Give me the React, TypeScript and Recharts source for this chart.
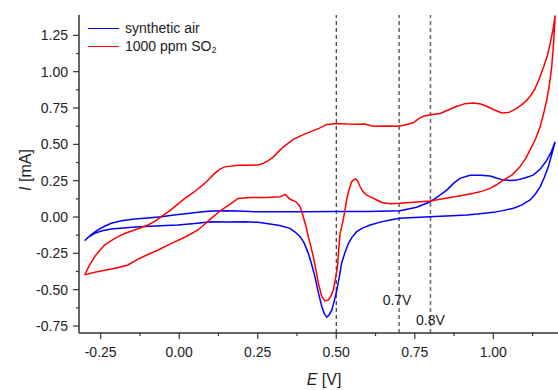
import { LineChart, Line, XAxis, YAxis, ReferenceLine, Legend, Label } from "recharts";

// [E (V), I (mA)] pairs
const airForward = [
  [-0.301, -0.163], [-0.28, -0.12], [-0.259, -0.089], [-0.236, -0.062], [-0.216, -0.043],
  [-0.184, -0.025], [-0.142, -0.014], [-0.1, -0.006], [-0.057, 0.002], [-0.01, 0.015],
  [0.028, 0.025], [0.06, 0.033], [0.102, 0.041], [0.15, 0.043], [0.187, 0.041],
  [0.251, 0.036], [0.3, 0.036], [0.4, 0.036], [0.5, 0.038], [0.6, 0.038],
  [0.703, 0.043], [0.756, 0.067], [0.799, 0.105], [0.83, 0.15], [0.852, 0.185],
  [0.875, 0.235], [0.894, 0.266], [0.926, 0.288], [0.96, 0.288], [0.99, 0.282],
  [1.01, 0.268], [1.032, 0.254], [1.055, 0.252], [1.074, 0.254], [1.1, 0.268],
  [1.127, 0.288], [1.15, 0.33], [1.17, 0.39], [1.185, 0.45], [1.197, 0.517],
];

const airReverse = [
  [1.186, 0.43], [1.175, 0.345], [1.162, 0.27], [1.149, 0.208], [1.133, 0.155],
  [1.117, 0.117], [1.09, 0.082], [1.064, 0.06], [1.03, 0.044], [1.0, 0.032],
  [0.95, 0.02], [0.916, 0.014], [0.85, 0.007], [0.799, 0.002], [0.75, -0.004],
  [0.703, -0.009], [0.671, -0.021], [0.64, -0.035], [0.608, -0.055], [0.585, -0.075],
  [0.565, -0.101], [0.55, -0.14], [0.539, -0.181], [0.527, -0.25], [0.517, -0.318],
  [0.51, -0.41], [0.502, -0.501], [0.494, -0.575], [0.486, -0.639], [0.478, -0.672],
  [0.47, -0.689], [0.462, -0.665], [0.454, -0.616], [0.443, -0.52], [0.432, -0.41],
  [0.421, -0.32], [0.411, -0.25], [0.398, -0.18], [0.385, -0.135], [0.37, -0.105],
  [0.353, -0.078], [0.32, -0.058], [0.289, -0.048], [0.251, -0.036], [0.209, -0.032],
  [0.15, -0.035], [0.102, -0.032], [0.05, -0.045], [-0.004, -0.055], [-0.06, -0.06],
  [-0.11, -0.066], [-0.16, -0.072], [-0.216, -0.082], [-0.245, -0.095], [-0.269, -0.112],
  [-0.29, -0.14], [-0.301, -0.163],
];

const so2Forward = [
  [-0.301, -0.398], [-0.285, -0.33], [-0.269, -0.272], [-0.253, -0.23], [-0.237, -0.192],
  [-0.215, -0.16], [-0.195, -0.135], [-0.17, -0.11], [-0.142, -0.089], [-0.12, -0.072],
  [-0.099, -0.055], [-0.078, -0.03], [-0.057, 0.002], [-0.035, 0.035], [-0.014, 0.071],
  [0.018, 0.128], [0.049, 0.174], [0.081, 0.231], [0.113, 0.3], [0.13, 0.33],
  [0.145, 0.345], [0.187, 0.357], [0.226, 0.357], [0.251, 0.358], [0.268, 0.369],
  [0.285, 0.39], [0.3, 0.414], [0.316, 0.45], [0.332, 0.483], [0.363, 0.534],
  [0.39, 0.562], [0.417, 0.586], [0.445, 0.61], [0.47, 0.637], [0.502, 0.643],
  [0.535, 0.64], [0.565, 0.639], [0.59, 0.64], [0.618, 0.625], [0.66, 0.626],
  [0.693, 0.625], [0.715, 0.632], [0.745, 0.648], [0.762, 0.675], [0.777, 0.694],
  [0.8, 0.704], [0.831, 0.712], [0.86, 0.74], [0.884, 0.762], [0.91, 0.78],
  [0.937, 0.785], [0.96, 0.778], [0.979, 0.762], [1.0, 0.74], [1.027, 0.716],
  [1.05, 0.72], [1.074, 0.747], [1.092, 0.775], [1.107, 0.804], [1.122, 0.845],
  [1.133, 0.884], [1.148, 0.96], [1.16, 1.032], [1.172, 1.11], [1.181, 1.193],
  [1.19, 1.29], [1.197, 1.387],
];

const so2Reverse = [
  [1.192, 1.2], [1.186, 1.032], [1.178, 0.9], [1.17, 0.804], [1.16, 0.71],
  [1.149, 0.62], [1.136, 0.545], [1.122, 0.483], [1.105, 0.41], [1.085, 0.345],
  [1.06, 0.29], [1.032, 0.254], [1.01, 0.222], [0.99, 0.197], [0.965, 0.178],
  [0.937, 0.163], [0.9, 0.148], [0.863, 0.135], [0.83, 0.122], [0.799, 0.11],
  [0.746, 0.101], [0.703, 0.094], [0.671, 0.091], [0.645, 0.1], [0.629, 0.117],
  [0.612, 0.135], [0.597, 0.151], [0.585, 0.175], [0.576, 0.208], [0.568, 0.25],
  [0.562, 0.262], [0.555, 0.255], [0.549, 0.243], [0.541, 0.19], [0.533, 0.117],
  [0.528, 0.05], [0.523, -0.01], [0.517, -0.07], [0.512, -0.112], [0.508, -0.22],
  [0.504, -0.341], [0.497, -0.43], [0.491, -0.501], [0.483, -0.545], [0.475, -0.57],
  [0.464, -0.577], [0.454, -0.547], [0.443, -0.456], [0.435, -0.36], [0.427, -0.273],
  [0.419, -0.2], [0.411, -0.135], [0.403, -0.06], [0.395, 0.002], [0.385, 0.071],
  [0.372, 0.105], [0.353, 0.122], [0.345, 0.14], [0.337, 0.156], [0.328, 0.145],
  [0.321, 0.139], [0.279, 0.135], [0.251, 0.135], [0.226, 0.135], [0.187, 0.128],
  [0.166, 0.094], [0.134, 0.048], [0.102, -0.009], [0.081, -0.05], [0.06, -0.089],
  [0.018, -0.139], [-0.025, -0.181], [-0.067, -0.227], [-0.11, -0.268], [-0.135, -0.295],
  [-0.163, -0.33], [-0.19, -0.345], [-0.216, -0.357], [-0.245, -0.37], [-0.269, -0.38],
  [-0.301, -0.398],
];

const markers = [0.5, 0.7, 0.8];

const xTicks = [-0.25, -0.125, 0, 0.125, 0.25, 0.375, 0.5, 0.625, 0.75, 0.875, 1.0, 1.125];
const yTicks = [-0.75, -0.625, -0.5, -0.375, -0.25, -0.125, 0, 0.125, 0.25, 0.375, 0.5, 0.625, 0.75, 0.875, 1.0, 1.125, 1.25];

const toRows = (pts: number[][]) => pts.map(([E, I]) => ({ E, I }));
const airData = toRows([...airForward, ...airReverse]);
const so2Data = toRows([...so2Forward, ...so2Reverse]);

const FONT = "'Liberation Sans', Arial, sans-serif";
const AXIS = "#333";
const isMajor = (v: number) => Math.abs(v * 4 - Math.round(v * 4)) < 1e-6;

const XTick = ({ x, y, payload }: any) => {
  const major = isMajor(payload.value);
  return (
    <g>
      <line x1={x} x2={x} y1={y} y2={y + (major ? 6 : 3)} stroke={AXIS} strokeWidth={1.2} />
      {major && (
        <text x={x} y={y + 24} textAnchor="middle" fontSize={14} fill="#222" fontFamily={FONT}>
          {payload.value.toFixed(2)}
        </text>
      )}
    </g>
  );
};

const YTick = ({ x, y, payload }: any) => {
  const major = isMajor(payload.value);
  return (
    <g>
      <line x1={x} x2={x - (major ? 6 : 3)} y1={y} y2={y} stroke={AXIS} strokeWidth={1.2} />
      {major && (
        <text x={x - 11} y={y + 5} textAnchor="end" fontSize={14} fill="#222" fontFamily={FONT}>
          {payload.value.toFixed(2)}
        </text>
      )}
    </g>
  );
};

const LegendBox = () => (
  <div style={{ fontFamily: FONT, fontSize: 14, color: "#222", lineHeight: "18px" }}>
    <div style={{ display: "flex", alignItems: "center", height: 18 }}>
      <span style={{ width: 31, borderTop: "1.5px solid #0000ff", marginRight: 6 }} />
      synthetic air
    </div>
    <div style={{ display: "flex", alignItems: "center", height: 18 }}>
      <span style={{ width: 31, borderTop: "1.5px solid #ff0000", marginRight: 6 }} />
      1000 ppm SO<span style={{ fontSize: 9, position: "relative", top: 4 }}>2</span>
    </div>
  </div>
);

export default function App() {
  return (
    <div style={{ position: "absolute", left: 0, top: 0, width: 558, height: 390, background: "#fff" }}>
      <LineChart width={558} height={390} margin={{ top: 15, right: 0, bottom: 0, left: 0 }}>
        <XAxis
          type="number"
          dataKey="E"
          domain={[-0.319, 1.206]}
          allowDataOverflow
          ticks={xTicks}
          interval={0}
          height={57}
          tickSize={0}
          tickMargin={0}
          tickLine={false}
          tick={<XTick />}
          axisLine={{ stroke: AXIS, strokeWidth: 1.5 }}
        >
          <Label
            content={() => (
              <text x={324} y={385} textAnchor="middle" fontSize={16} fill="#222" fontFamily={FONT}>
                <tspan fontStyle="italic">E</tspan> [V]
              </text>
            )}
          />
        </XAxis>
        <YAxis
          type="number"
          domain={[-0.798, 1.39]}
          allowDataOverflow
          ticks={yTicks}
          interval={0}
          width={79}
          tickSize={0}
          tickMargin={0}
          tickLine={false}
          tick={<YTick />}
          axisLine={{ stroke: AXIS, strokeWidth: 1.5 }}
        >
          <Label
            content={() => (
              <text
                transform="translate(31,170) rotate(-90)"
                textAnchor="middle"
                fontSize={16}
                fill="#222"
                fontFamily={FONT}
              >
                <tspan fontStyle="italic">I</tspan> [mA]
              </text>
            )}
          />
        </YAxis>
        {markers.map((m) => (
          <ReferenceLine
            key={m}
            x={m}
            stroke={m === 0.8 ? "#666" : "#111"}
            strokeWidth={m === 0.8 ? 1.5 : 1}
            strokeDasharray="4 3"
            label={
              m === 0.7
                ? { value: "0.7V", position: "insideBottom", offset: 28, fontSize: 14, fill: "#222", fontFamily: FONT, dx: -2 }
                : m === 0.8
                ? { value: "0.8V", position: "insideBottom", offset: 8, fontSize: 14, fill: "#222", fontFamily: FONT }
                : undefined
            }
          />
        ))}
        <Line
          data={airData}
          dataKey="I"
          type="linear"
          stroke="#0000ff"
          strokeWidth={1.5}
          dot={false}
          activeDot={false}
          isAnimationActive={false}
          name="synthetic air"
        />
        <Line
          data={so2Data}
          dataKey="I"
          type="linear"
          stroke="#ff0000"
          strokeWidth={1.5}
          dot={false}
          activeDot={false}
          isAnimationActive={false}
          name="1000 ppm SO2"
        />
        <Legend
          layout="horizontal"
          verticalAlign="middle"
          align="center"
          wrapperStyle={{ top: 19, left: 88, width: 200 }}
          content={<LegendBox />}
        />
      </LineChart>
    </div>
  );
}
